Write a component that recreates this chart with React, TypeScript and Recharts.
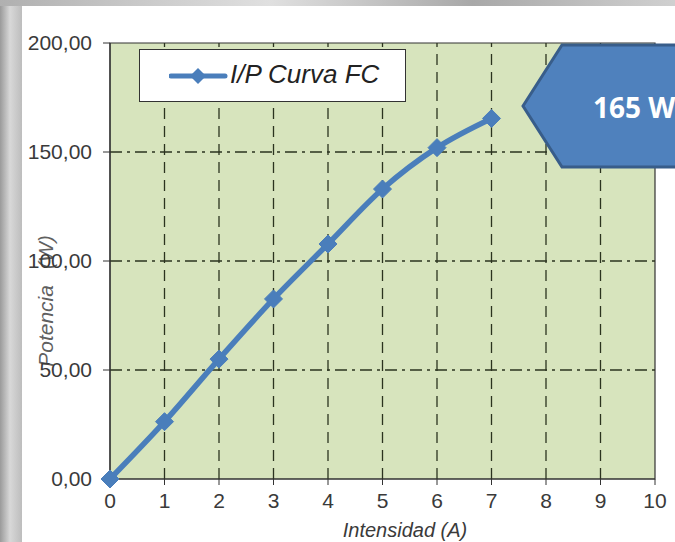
import React from 'react';
import { LineChart, Line, XAxis, YAxis, ReferenceArea, ReferenceLine } from 'recharts';

const intensidad = [0, 1, 2, 3, 4, 5, 6, 7];
const potencia = [0, 26.3, 55, 82.6, 107.8, 133, 152, 165.4];
const xTicks = [0, 1, 2, 3, 4, 5, 6, 7, 8, 9, 10];
const yTicks = [0, 50, 100, 150, 200];
const vGrid = [1, 2, 3, 4, 5, 6, 7, 8, 9];
const hGrid = [50, 100, 150];
const seriesName = 'I/P Curva FC';
const calloutText = '165 W';

const data = intensidad.map((x, i) => ({ x, p: potencia[i] }));

const LINE = '#4a7ebb';
const TEXT = '#3a3a3a';
const FONT = 'Arial, "Liberation Sans", sans-serif';

const Diamond = (props: any) => {
  const { cx, cy } = props;
  if (cx == null || cy == null) return null;
  const r = 9;
  return (
    <polygon
      points={`${cx},${cy - r} ${cx + r},${cy} ${cx},${cy + r} ${cx - r},${cy}`}
      fill={LINE}
      stroke={LINE}
      strokeWidth={1}
    />
  );
};

const fmt = (v: number) => v.toFixed(2).replace('.', ',');

export default function App() {
  return (
    <div
      style={{
        position: 'absolute',
        left: 0,
        top: 0,
        width: 675,
        height: 542,
        overflow: 'hidden',
        background: 'linear-gradient(90deg, #9a9a9a 0px, #d8d8d8 10px, #bdbdbd 22px)',
        fontFamily: FONT,
      }}
    >
      <div
        style={{
          position: 'absolute',
          left: 0,
          top: 0,
          width: 675,
          height: 6,
          background: 'linear-gradient(90deg, #b0b0b0, #e0e0e0 40%, #a8a8a8 70%, #d0d0d0)',
        }}
      />
      <div style={{ position: 'absolute', left: 22, top: 6, width: 653, height: 536, background: '#ffffff' }} />
      <div style={{ position: 'absolute', left: 0, top: 0 }}>
        <LineChart width={675} height={542} data={data} margin={{ top: 43, right: 20, bottom: 0, left: 0 }}>
          <ReferenceArea x1={0} x2={10} y1={0} y2={200} fill="#d7e4bd" fillOpacity={1} stroke="#333" strokeWidth={1.2} ifOverflow="extendDomain" />
          {vGrid.map((v) => (
            <ReferenceLine key={'v' + v} x={v} stroke="#2b331f" strokeWidth={1.3} strokeDasharray="11 7" />
          ))}
          {hGrid.map((h) => (
            <ReferenceLine key={'h' + h} y={h} stroke="#2b331f" strokeWidth={1.3} strokeDasharray="12 5 3 5" />
          ))}
          <XAxis
            type="number"
            dataKey="x"
            domain={[0, 10]}
            ticks={xTicks}
            interval={0}
            height={63}
            tickSize={6}
            tickMargin={8}
            axisLine={{ stroke: '#333', strokeWidth: 1.2 }}
            tickLine={{ stroke: '#333' }}
            tick={{ fill: TEXT, fontSize: 21, fontFamily: FONT }}
            label={{
              content: () => (
                <text x={405} y={537} textAnchor="middle" fill={TEXT} fontSize={20} fontStyle="italic" fontFamily={FONT}>
                  Intensidad (A)
                </text>
              ),
            }}
          />
          <YAxis
            type="number"
            domain={[0, 200]}
            ticks={yTicks}
            interval={0}
            width={110}
            tickSize={7}
            tickMargin={11}
            tickFormatter={fmt}
            axisLine={{ stroke: '#333', strokeWidth: 1.2 }}
            tickLine={{ stroke: '#333' }}
            tick={{ fill: TEXT, fontSize: 21, fontFamily: FONT }}
            label={{
              content: (p: any) => {
                const vb = p.viewBox || { y: 43, height: 436 };
                const cy = vb.y + vb.height / 2 + 40;
                return (
                  <text
                    x={45}
                    y={cy}
                    transform={`rotate(-90, 45, ${cy})`}
                    textAnchor="middle"
                    dominantBaseline="central"
                    fill="#606060"
                    fontSize={21}
                    fontStyle="italic"
                    fontFamily={FONT}
                  >
                    <tspan>Potencia</tspan>
                    <tspan dx={16}>(W)</tspan>
                  </text>
                );
              },
            }}
          />
          <Line
            type="monotone"
            dataKey="p"
            stroke={LINE}
            strokeWidth={5.5}
            dot={<Diamond />}
            activeDot={false}
            isAnimationActive={false}
          />
        </LineChart>
      </div>
      {/* legend */}
      <div
        style={{
          position: 'absolute',
          left: 139,
          top: 49,
          width: 267,
          height: 53,
          background: '#ffffff',
          border: '1.5px solid #333',
          boxSizing: 'border-box',
        }}
      >
        <svg width={60} height={20} style={{ position: 'absolute', left: 29, top: 16 }}>
          <line x1={2} y1={10} x2={56} y2={10} stroke={LINE} strokeWidth={5} strokeLinecap="round" />
          <polygon points="29,2 37,10 29,18 21,10" fill={LINE} />
        </svg>
        <span
          style={{
            position: 'absolute',
            left: 90,
            top: 9,
            fontSize: 26,
            fontStyle: 'italic',
            color: '#222',
            fontFamily: FONT,
            whiteSpace: 'nowrap',
          }}
        >
          {seriesName}
        </span>
      </div>
      {/* callout */}
      <svg width={675} height={542} style={{ position: 'absolute', left: 0, top: 0, pointerEvents: 'none' }}>
        <polygon points="523,106 562,45 700,45 700,167 562,167" fill="#4f81bd" stroke="#385d8a" strokeWidth={3} />
        <text x={593} y={118} fill="#ffffff" fontSize={28} fontWeight="bold" fontFamily='"Open Sans", sans-serif'>
          {calloutText}
        </text>
      </svg>
    </div>
  );
}
